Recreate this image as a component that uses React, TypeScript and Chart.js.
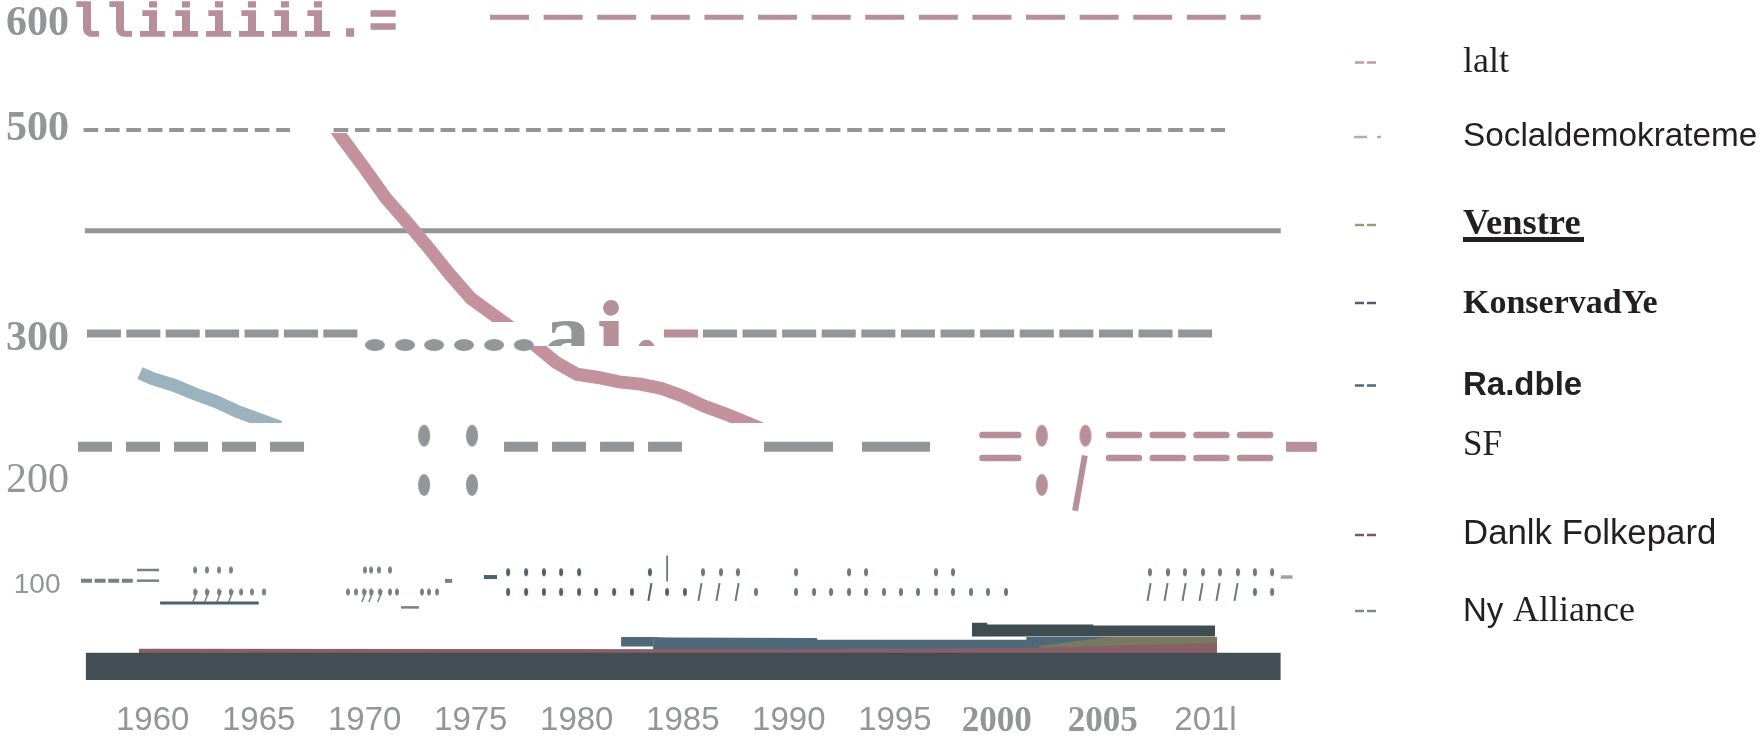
import React, { useEffect, useRef } from "react";
import { Chart, registerables } from "chart.js";

Chart.register(...registerables);

// ---- axes ----
const xTickYears = [1960, 1965, 1970, 1975, 1980, 1985, 1990, 1995, 1999.8, 2004.8, 2009.65];
const xTickLabels = ["1960", "1965", "1970", "1975", "1980", "1985", "1990", "1995", "2000", "2005", "201l"];
const yTickValues = [596, 501, 310, 181, 86];
const yTickLabels = ["600", "500", "300", "200", " 100"];

// ---- legend ----
const legendNames = ["lalt", "Soclaldemokrateme", "Venstre", "KonservadYe", "Ra.dble", "SF", "Danlk Folkepard", "Ny"];
const legendExtra = " Alliance";

// ---- main lines ----
const ialtYears = [1968, 1969, 1970, 1971, 1972, 1973, 1974, 1975, 1976, 1977, 1978, 1979, 1980, 1981, 1982, 1983, 1984, 1985, 1986, 1987, 1988, 1989, 1990];
const ialtValues = [518, 491, 465, 438, 416, 393, 369, 347, 333, 319, 305, 289, 278, 275, 271, 269, 265, 258, 249, 242, 234, 226, 220];
const socialYears = [1959.4, 1960, 1961, 1962, 1963, 1964, 1965, 1966];
const socialValues = [279, 274, 268, 260, 253, 244, 237, 230];

// ---- bottom bands ----
const baseYears = [1956.84, 2013.2];
const baseValues = [24.8, 24.8];
const maroonYears = [1959.35, 1990.5, 2001, 2010.2];
const maroonValues = [28.5, 28, 29, 33.6];
const blueShortYears = [1982.09, 1983.6];
const blueShortValues = [39.1, 39.1];
const blueYears = [1983.6, 1984.35, 1991.33, 1991.34, 2001.19, 2001.2, 2010.1];
const blueValues = [39.1, 38.6, 38.2, 36.6, 36.6, 39, 39];
const oliveYears = [2001.8, 2005.1, 2010.2];
const oliveValues = [31, 39, 39];
const darkYears = [1998.64, 1999.35, 1999.36, 2004.35, 2004.36, 2010.1];
const darkValues = [52, 52, 50.5, 50.5, 49.5, 49.5];

// ---- dashed rows ----
const row600Years = [1975.91, 2012.25];
const row600Value = 602.5;
const row500AYears = [1956.74, 1966.48];
const row500BYears = [1968.53, 2010.57];
const row500Value = 500;
const solidYears = [1956.8, 2013.2];
const solidValue = 408.5;
const row300AYears = [1956.9, 1969.68];
const row300PinkYears = [1984.11, 1985.72];
const row300BYears = [1985.95, 2009.96];
const row300Value = 315;
const row300DotYears = [1970.48, 1971.9, 1973.27, 1974.68, 1976.1, 1977.5];
const row300DotValue = 304.5;
const row200AYears = [1956.48, 1967.18];
const row200BYears = [1976.57, 1985.01];
const row200CYears = [1988.83, 1996.66];
const row200PinkYears = [2013.45, 2014.9];
const row200Value = 212;
const pinkPairAYears = [1999.13, 2000.82];
const pinkPairBYears = [2005.1, 2012.97];
const pinkPairValues = [222.7, 201.8];
const bigOvalGrayYears = [1972.8, 1975.06];
const bigOvalPinkYears = [2001.93, 2003.99];
const bigOvalValues = [222.1, 177.3];
const slashYear = 2003.73;
const slashValue = 179;

// ---- small marks near 100 ----
const greenDashYears = [1956.62, 1959.17];
const greenDashValue = 90.3;
const greenEqYears = [1959.26, 1960.3];
const greenEqValues = [100, 90.3];
const blueUnderYears = [1960.35, 1965];
const blueUnderValue = 70;
const greenUnderYears = [1971.71, 1972.56];
const greenUnderValue = 66;
const greenTickYears = [1973.79, 1974.12];
const blueDashYears = [1975.62, 1976.24];
const grayDashYears = [2013.2, 2013.75];
const markDashValue = 93.6;

const greenTopYears = [1962, 1962.56, 1963.13, 1963.69, 1970.01, 1970.3, 1970.67, 1971.19];
const greenLowYears = [1964.17, 1964.68, 1965.25, 1969.21, 1969.59, 1971.19, 1971.52, 1972.7, 1973.03, 1973.41];
const greenCommaYears = [1962, 1962.56, 1963.13, 1963.69, 1969.97, 1970.3, 1970.72];
const blueTopYears = [1976.76, 1977.61, 1978.45, 1979.26, 1980.11, 1983.45];
const blueLowYears = [1976.76, 1977.61, 1978.45, 1979.26, 1980.11, 1980.91, 1981.76, 1982.6, 1984.26, 1985.1];
const slateTopYears = [1985.95, 1986.8, 1987.6, 1990.34, 1992.84, 1993.64, 1996.94, 1997.74, 2007.03, 2007.88, 2008.68, 2009.53, 2010.33, 2011.18, 2011.98, 2012.79];
const slateLowYears = [1988.45, 1990.34, 1991.19, 1991.99, 1992.84, 1993.64, 1994.49, 1995.29, 1996.09, 1996.94, 1997.74, 1998.59, 1999.39, 2000.24, 2011.98, 2012.79];
const blueSlashYears = [1983.45];
const slateSlashYears = [1985.81, 1986.66, 1987.56, 2006.99, 2007.79, 2008.64, 2009.44, 2010.24, 2011.09];
const bangYear = 1984.26;
const bangValue = 101.4;
const markTopValue = 98;
const greenTopValue = 100;
const markLowValue = 80;
const commaTailValue = 76;

const PINK = "#c4929c";
const DUSTY = "#b78f98";
const GRAY = "#939598";
const BLUE = "#9bb3bf";
const GREEN = "#7a817c";
const SLATE_BLUE = "#4a616e";
const SLATE = "#6a7a76";

const pts = (xs: number[], ys: number[]) => xs.map((x, i) => ({ x, y: ys[i] }));
const flat = (xs: number[], y: number) => xs.map((x) => ({ x, y }));

function oval(w: number, h: number, color: string) {
  const c = document.createElement("canvas");
  c.width = w + 2;
  c.height = h + 2;
  const g = c.getContext("2d")!;
  g.fillStyle = color;
  g.beginPath();
  g.ellipse(c.width / 2, c.height / 2, w / 2, h / 2, 0, 0, Math.PI * 2);
  g.fill();
  return c;
}

const run = (data: any[], color: string, width: number, dash: number[] = [], extra: any = {}) => ({
  type: "line",
  data,
  borderColor: color,
  borderWidth: width,
  borderDash: dash,
  borderCapStyle: "butt",
  pointRadius: 0,
  tension: 0,
  fill: false,
  order: 5,
  clip: false,
  ...extra,
});
const band = (data: any[], color: string, base: number, order: number) => ({
  type: "line",
  data,
  borderWidth: 0,
  borderColor: color,
  backgroundColor: color,
  pointRadius: 0,
  tension: 0,
  fill: { value: base },
  order,
});
const marks = (data: any[], style: any) => ({
  type: "line",
  data,
  showLine: false,
  pointRadius: 5,
  pointStyle: style,
  order: 2,
  clip: false,
});
const strokes = (data: any[], color: string, radius: number, rotation: number, width: number) => ({
  type: "line",
  data,
  showLine: false,
  pointRadius: radius,
  pointStyle: "line",
  pointRotation: rotation,
  pointBorderColor: color,
  pointBackgroundColor: color,
  pointBorderWidth: width,
  order: 2,
  clip: false,
});

const legendPlugin = {
  id: "sheetText",
  afterDatasetsDraw(chart: any) {
    const ctx = chart.ctx;
    ctx.save();
    ctx.textBaseline = "alphabetic";
    ctx.textAlign = "left";
    // stray glyph runs in the plot
    ctx.fillStyle = DUSTY;
    ctx.strokeStyle = DUSTY;
    ctx.lineWidth = 1.5;
    ctx.font = "bold 47px 'Liberation Mono'";
    ctx.letterSpacing = "4.8px";
    ctx.fillText("lliiiiii.=", 72, 36);
    ctx.strokeText("lliiiiii.=", 72, 36);
    ctx.letterSpacing = "0px";
    ctx.save();
    ctx.beginPath();
    ctx.rect(530, 295, 135, 51);
    ctx.clip();
    ctx.font = "bold 92px 'Liberation Serif'";
    ctx.fillStyle = GRAY;
    ctx.fillText("a", 544, 364);
    ctx.fillStyle = DUSTY;
    ctx.lineWidth = 2;
    ctx.fillText("i", 598, 364);
    ctx.strokeText("i", 598, 364);
    ctx.font = "bold 100px 'Liberation Serif'";
    ctx.fillText(".", 634, 355);
    ctx.restore();
    // legend
    const rows = [
      { font: "36px 'Liberation Serif'", y: 72, key: [62.5, "#c49aa5"] },
      { font: "33.3px 'Liberation Sans'", y: 146, key: [137, "#9bb3c5"] },
      { font: "bold 36.5px 'Liberation Serif'", y: 234, key: [225, "#9a9a78"] },
      { font: "bold 34px 'Liberation Serif'", y: 313, key: [303, "#4f5f68"] },
      { font: "bold 33px 'Liberation Sans'", y: 395, key: [385.5, "#50697a"] },
      { font: "35px 'Liberation Serif'", y: 454.5, key: null },
      { font: "34.8px 'Liberation Sans'", y: 544, key: [535, "#7a5a62"] },
      { font: "33px 'Liberation Sans'", y: 621, key: [611, "#7c8a84"] },
    ];
    rows.forEach((r: any, i) => {
      ctx.fillStyle = "#231f20";
      ctx.font = r.font;
      ctx.fillText(legendNames[i], 1463, r.y);
      if (r.key) {
        ctx.strokeStyle = r.key[1];
        ctx.lineWidth = 2.5;
        ctx.setLineDash(i === 1 ? [13, 10, 4, 100] : [9, 3, 9, 100]);
        ctx.beginPath();
        ctx.moveTo(i === 1 ? 1354 : 1355, r.key[0]);
        ctx.lineTo(1382, r.key[0]);
        ctx.stroke();
        ctx.setLineDash([]);
      }
    });
    ctx.fillStyle = "#231f20";
    ctx.font = "36px 'Liberation Serif'";
    ctx.fillText(legendExtra.trim(), 1513, 621);
    ctx.fillRect(1463, 237, 121, 5);
    ctx.restore();
  },
};

const noInset = (s: any) => {
  s.paddingLeft = 0;
  s.paddingRight = 0;
  s.paddingTop = 0;
  s.paddingBottom = 0;
};

export default function App() {
  const ref = useRef<HTMLCanvasElement>(null);
  useEffect(() => {
    const ovalGray = oval(12, 22, GRAY);
    const ovalPink = oval(12, 22, DUSTY);
    const dotGray = oval(20, 12, GRAY);
    const tinyGreen = oval(4, 7, GREEN);
    const tinyBlue = oval(4, 8, SLATE_BLUE);
    const tinySlate = oval(4, 8, SLATE);
    const ialt = pts(ialtYears, ialtValues);
    const chart = new Chart(ref.current!, {
      type: "line",
      data: {
        datasets: [
          // bottom bands
          band(pts(baseYears, baseValues), "#424e54", 0, 6),
          band(pts(maroonYears, maroonValues), "#8a6068", 24, 7),
          band(pts(oliveYears, oliveValues), "#777a60", 24, 8),
          band(pts(blueShortYears, blueShortValues), "#50697a", 30.5, 9),
          band(pts(blueYears, blueValues), "#50697a", 27, 9),
          band(pts(darkYears, darkValues), "#3f4c52", 39.5, 6),
          // thick lines
          run(ialt, PINK, 13, [], { order: 4, clip: { left: 0, right: 0, top: -133, bottom: -358 } }),
          run(ialt, PINK, 13, [], { order: 4, clip: { left: 0, right: 0, top: -346, bottom: -257 } }),
          run(pts(socialYears, socialValues), BLUE, 13, [], { order: 4, clip: { left: 0, right: 0, top: 0, bottom: -257 } }),
          // dashed rows
          run(flat(row600Years, row600Value), DUSTY, 5, [39, 14.6]),
          run(flat(row500AYears, row500Value), GRAY, 4, [14.7, 6.7]),
          run(flat(row500BYears, row500Value), GRAY, 4, [14.7, 6.7]),
          run(flat(solidYears, solidValue), GRAY, 5),
          run(flat(row300AYears, row300Value), GRAY, 8, [34, 5.4]),
          run(flat(row300PinkYears, row300Value), DUSTY, 8),
          run(flat(row300BYears, row300Value), GRAY, 8, [34, 5.6]),
          run(flat(row200AYears, row200Value), GRAY, 10, [34, 14]),
          run(flat(row200BYears, row200Value), GRAY, 10, [34, 14]),
          run(flat(row200CYears, row200Value), GRAY, 10, [69, 29]),
          run(flat(row200PinkYears, row200Value), DUSTY, 10),
          ...pinkPairValues.flatMap((v) => [
            run(flat(pinkPairAYears, v), DUSTY, 6.5, [], { borderCapStyle: "round" }),
            run(flat(pinkPairBYears, v), DUSTY, 6.5, [30, 13.7], { borderCapStyle: "round" }),
          ]),
          // big glyph-like ovals
          marks(flat(row300DotYears, row300DotValue), dotGray),
          marks(bigOvalValues.flatMap((v) => flat(bigOvalGrayYears, v)), ovalGray),
          marks([...flat(bigOvalPinkYears, bigOvalValues[0]), { x: bigOvalPinkYears[0], y: bigOvalValues[1] }], ovalPink),
          strokes([{ x: slashYear, y: slashValue }], DUSTY, 28, 100, 6),
          // small marks
          run(flat(greenDashYears, greenDashValue), GREEN, 4, [11, 2.6]),
          ...greenEqValues.map((v) => run(flat(greenEqYears, v), GREEN, 2.5)),
          run(flat(blueUnderYears, blueUnderValue), SLATE_BLUE, 3),
          run(flat(greenUnderYears, greenUnderValue), GREEN, 2.5),
          run(flat(greenTickYears, markDashValue - 3.5), GREEN, 4),
          run(flat(blueDashYears, markDashValue), SLATE_BLUE, 4),
          run(flat(grayDashYears, markDashValue), "#a0a0a8", 3.5),
          marks(flat(greenTopYears, greenTopValue), tinyGreen),
          marks(flat(greenLowYears, markLowValue), tinyGreen),
          marks(flat(greenCommaYears, markLowValue), tinyGreen),
          strokes(flat(greenCommaYears, commaTailValue), GREEN, 6, 112, 1.5),
          marks(flat(blueTopYears, markTopValue), tinyBlue),
          marks(flat(blueLowYears, markLowValue), tinyBlue),
          marks(flat(slateTopYears, markTopValue), tinySlate),
          marks(flat(slateLowYears, markLowValue), tinySlate),
          strokes(flat(blueSlashYears, markLowValue), SLATE_BLUE, 9, 100, 2),
          strokes(flat(slateSlashYears, markLowValue), SLATE, 9, 100, 2),
          strokes([{ x: bangYear, y: bangValue }], SLATE_BLUE, 13, 90, 1.5),
        ] as any,
      },
      options: {
        animation: false,
        responsive: false,
        devicePixelRatio: 1,
        layout: { padding: 0, autoPadding: false },
        plugins: { legend: { display: false }, tooltip: { enabled: false } },
        events: [],
        scales: {
          x: {
            type: "linear",
            min: 1952.8,
            max: 2035.8,
            grid: { display: false, drawTicks: false },
            border: { display: false },
            afterFit(s: any) {
              s.height = 57;
              noInset(s);
            },
            afterBuildTicks(s: any) {
              s.ticks = xTickYears.map((value) => ({ value }));
            },
            ticks: {
              autoSkip: false,
              maxRotation: 0,
              padding: 21,
              color: GRAY,
              callback: (_v: any, i: number) => xTickLabels[i],
              font: (c: any) =>
                c.index === 8 || c.index === 9
                  ? { family: "'Liberation Serif'", size: 35, weight: "bold" }
                  : { family: "'Liberation Sans'", size: 33, weight: "normal" },
            },
          },
          y: {
            type: "linear",
            min: 0,
            max: 618.18,
            grid: { display: false, drawTicks: false },
            border: { display: false },
            afterFit(s: any) {
              s.width = 0;
              noInset(s);
            },
            afterBuildTicks(s: any) {
              s.ticks = yTickValues.map((value) => ({ value }));
            },
            ticks: {
              mirror: true,
              padding: 6,
              autoSkip: false,
              color: GRAY,
              callback: (_v: any, i: number) => yTickLabels[i],
              font: (c: any) =>
                c.index <= 2
                  ? { family: "'Liberation Serif'", size: 42, weight: "bold" }
                  : c.index === 3
                  ? { family: "'Liberation Serif'", size: 42, weight: "normal" }
                  : { family: "'Liberation Sans'", size: 28, weight: "normal" },
            },
          },
        },
      } as any,
      plugins: [legendPlugin],
    } as any);
    return () => chart.destroy();
  }, []);
  return (
    <canvas
      ref={ref}
      width={1760}
      height={737}
      style={{ position: "fixed", left: 0, top: 0, width: 1760, height: 737, display: "block" }}
    />
  );
}
